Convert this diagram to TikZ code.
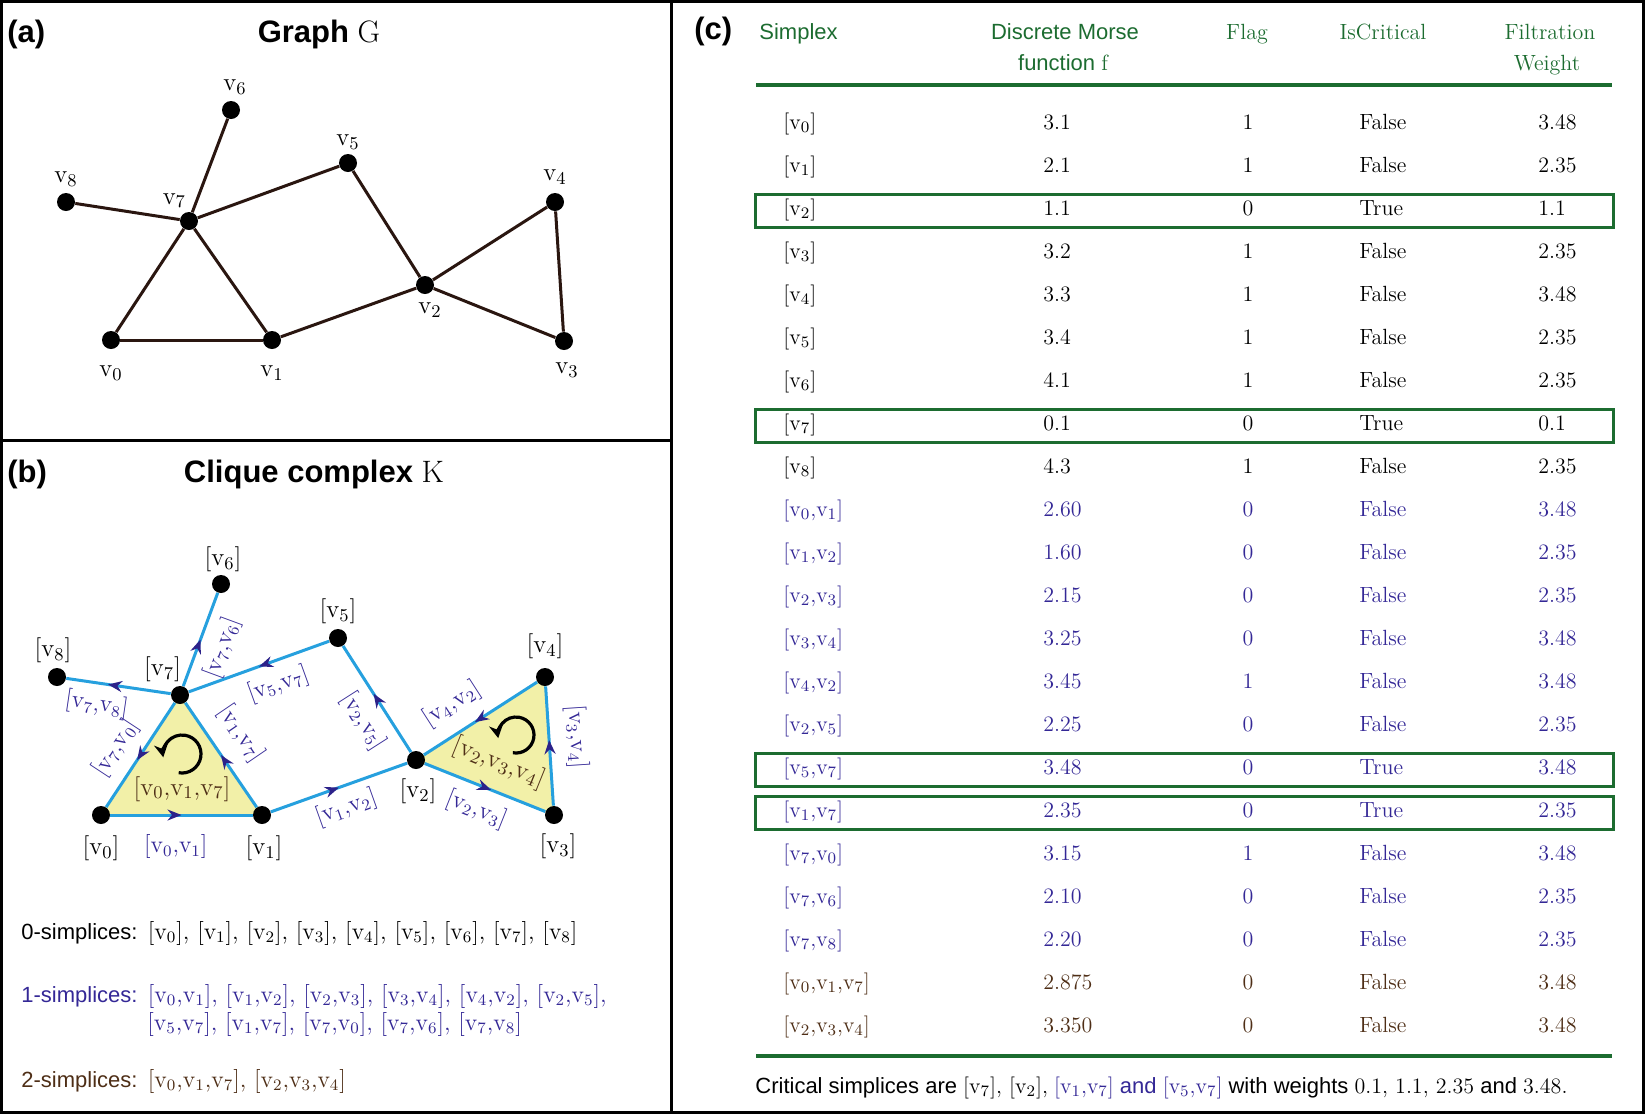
\documentclass[tikz,border=0pt]{standalone}
\usepackage{fontspec}
\setsansfont{Liberation Sans}
\usepackage{tikz}
\usetikzlibrary{positioning,arrows.meta,decorations.markings}

\definecolor{tabgreen}{RGB}{28,108,48}
\definecolor{simpblue}{RGB}{52,40,150}
\definecolor{simpbrown}{RGB}{78,46,22}
\definecolor{edgeblue}{RGB}{38,160,222}
\definecolor{arrowblue}{RGB}{44,34,138}
\definecolor{trifill}{RGB}{242,240,168}
\definecolor{edgedark}{RGB}{42,22,16}

\newcommand{\vx}[1]{$\mathrm{v}_{#1}$}
% one line of the table: index, colour, simplex, f, flag, critical, weight
\newcommand{\trow}[7]{%
  \node[cell,text=#2,anchor=base west] (s#1) at (783,{129+43*#1}) {#3};
  \node[cell,text=#2,anchor=base west] (f#1) at (1043,{129+43*#1}) {#4};
  \node[cell,text=#2,anchor=base] (g#1) at (1248,{129+43*#1}) {#5};
  \node[cell,text=#2,anchor=base west] (c#1) at (1359,{129+43*#1}) {#6};
  \node[cell,text=#2,anchor=base west] (w#1) at (1538,{129+43*#1}) {#7};
}

\begin{document}
\begin{tikzpicture}[x=0.5pt,y=-0.5pt,
    dot/.style={circle,fill=black,inner sep=0pt,minimum size=9pt},
    gedge/.style={draw=edgedark,line width=1.5pt},
    kedge/.style={draw=edgeblue,line width=1.5pt},
    flow/.style={postaction={decorate},decoration={markings,
        mark=at position #1 with {\arrow{Stealth[length=7pt,width=5.5pt,color=arrowblue]}}}},
    vlbl/.style={font=\fontsize{12.5}{14}\selectfont,inner sep=1pt},
    elbl/.style={font=\fontsize{12}{13}\selectfont,text=simpblue,inner sep=1pt,sloped},
    paneltitle/.style={font=\sffamily\bfseries\fontsize{15.5}{18}\selectfont,anchor=base},
    panelmark/.style={font=\sffamily\bfseries\fontsize{15.5}{18}\selectfont,anchor=base west,inner sep=0pt},
    head/.style={font=\fontsize{11}{13}\selectfont,text=tabgreen,anchor=base,inner sep=0pt},
    cell/.style={font=\fontsize{11}{13}\selectfont,inner sep=0pt},
    critbox/.style={draw=tabgreen,line width=1.5pt},
    hrule/.style={draw=tabgreen,line width=2pt},
    circarr/.style={line width=1.6pt,-{Stealth[length=6.5pt,width=7pt]}},
    listtxt/.style={font=\fontsize{12}{14}\selectfont,anchor=base west,inner sep=0pt}]

  \useasboundingbox (0,0) rectangle (1645,1116);
  \draw[line width=1.5pt] (1.5,1.5) rectangle (1643.5,1112);
  \draw[line width=1.5pt] (671,1.5) -- (671,1112);
  \draw[line width=1.5pt] (1.5,440) -- (671,440);

  % (a) graph
  \node[panelmark] (pa) at (7,42) {(a)};
  \node[paneltitle] (ta) at (319,42) {Graph {\rmfamily\mdseries G}};

  \node[dot] (a0) at (111,340) {};
  \node[dot] (a1) at (272,340) {};
  \node[dot] (a2) at (425,285) {};
  \node[dot] (a3) at (564,341) {};
  \node[dot] (a4) at (555,202) {};
  \node[dot] (a5) at (348,163) {};
  \node[dot] (a6) at (231,110) {};
  \node[dot] (a7) at (189,221) {};
  \node[dot] (a8) at (66,202) {};

  \node[vlbl,below=7pt of a0] (la0) {\vx0};
  \node[vlbl,below=7pt of a1] (la1) {\vx1};
  \node[vlbl,below=3pt of a2,xshift=2.5pt] (la2) {\vx2};
  \node[vlbl,below=5pt of a3,xshift=1.5pt] (la3) {\vx3};
  \node[vlbl,above=3pt of a4] (la4) {\vx4};
  \node[vlbl,above=1pt of a5] (la5) {\vx5};
  \node[vlbl,above=2pt of a6,xshift=2pt] (la6) {\vx6};
  \node[vlbl,above left=2pt and -3pt of a7] (la7) {\vx7};
  \node[vlbl,above=2pt of a8] (la8) {\vx8};

  \draw[gedge] (a0) -- (a1);
  \draw[gedge] (a0) -- (a7);
  \draw[gedge] (a1) -- (a7);
  \draw[gedge] (a1) -- (a2);
  \draw[gedge] (a2) -- (a3);
  \draw[gedge] (a2) -- (a4);
  \draw[gedge] (a3) -- (a4);
  \draw[gedge] (a2) -- (a5);
  \draw[gedge] (a5) -- (a7);
  \draw[gedge] (a6) -- (a7);
  \draw[gedge] (a8) -- (a7);

  % (b) clique complex
  \node[panelmark] (pb) at (7,482) {(b)};
  \node[paneltitle] (tb) at (314,482) {Clique complex {\rmfamily\mdseries K}};

  \coordinate (k0) at (101,815);
  \coordinate (k1) at (262,815);
  \coordinate (k2) at (416,760);
  \coordinate (k3) at (554,815);
  \coordinate (k4) at (545,677);
  \coordinate (k7) at (180,695);
  \fill[trifill] (k0) -- (k1) -- (k7) -- cycle;
  \fill[trifill] (k2) -- (k3) -- (k4) -- cycle;

  \node[dot] (b0) at (k0) {};
  \node[dot] (b1) at (k1) {};
  \node[dot] (b2) at (k2) {};
  \node[dot] (b3) at (k3) {};
  \node[dot] (b4) at (k4) {};
  \node[dot] (b5) at (338,638) {};
  \node[dot] (b6) at (221,584) {};
  \node[dot] (b7) at (k7) {};
  \node[dot] (b8) at (57,677) {};

  \node[vlbl,below=4.5pt of b0] (lb0) {[\vx0]};
  \node[vlbl,below=4.5pt of b1,xshift=1pt] (lb1) {[\vx1]};
  \node[vlbl,below=3.5pt of b2,xshift=1pt] (lb2) {[\vx2]};
  \node[vlbl,below=3.5pt of b3,xshift=2pt] (lb3) {[\vx3]};
  \node[vlbl,above=3pt of b4] (lb4) {[\vx4]};
  \node[vlbl,above=1pt of b5] (lb5) {[\vx5]};
  \node[vlbl,above=0pt of b6,xshift=1pt] (lb6) {[\vx6]};
  \node[vlbl,above left=2pt and -5pt of b7] (lb7) {[\vx7]};
  \node[vlbl,above=1pt of b8,xshift=-2pt] (lb8) {[\vx8]};

  \draw[kedge,flow=0.5] (b0) -- node[elbl,pos=0.46,below=8pt] (e01) {[\vx0,\vx1]} (b1);
  \draw[kedge,flow=0.6] (b7) -- node[elbl,pos=0.68,below=3pt] (e78) {[\vx7,\vx8]} (b8);
  \draw[kedge,flow=0.5] (b7) -- node[elbl,pos=0.5,below=4pt] (e76) {[\vx7,\vx6]} (b6);
  \draw[kedge,flow=0.5] (b5) -- node[elbl,pos=0.42,below=4pt] (e57) {[\vx5,\vx7]} (b7);
  \draw[kedge,flow=0.55] (b2) -- node[elbl,pos=0.41,below=4pt] (e25) {[\vx2,\vx5]} (b5);
  \draw[kedge,flow=0.5] (b1) -- node[elbl,pos=0.55,above=6.5pt] (e17) {[\vx1,\vx7]} (b7);
  \draw[kedge,flow=0.55] (b7) -- node[elbl,pos=0.56,above=4.5pt] (e70) {[\vx7,\vx0]} (b0);
  \draw[kedge,flow=0.5] (b1) -- node[elbl,pos=0.5,below=3pt] (e12) {[\vx1,\vx2]} (b2);
  \draw[kedge,flow=0.55] (b2) -- node[elbl,pos=0.5,below=4pt] (e23) {[\vx2,\vx3]} (b3);
  \draw[kedge,flow=0.55] (b4) -- node[elbl,pos=0.62,above=6pt] (e42) {[\vx4,\vx2]} (b2);
  \draw[kedge,flow=0.55] (b3) -- node[elbl,pos=0.56,above=6pt] (e34) {[\vx3,\vx4]} (b4);

  \coordinate (o1) at (182,754);
  \coordinate (o2) at (516,735);
  \draw[circarr] (o1) ++(-100:9.5pt) arc[start angle=-100,end angle=190,radius=9.5pt];
  \draw[circarr] (o2) ++(-100:9pt) arc[start angle=-100,end angle=190,radius=9pt];
  \node[vlbl,text=simpbrown] (t017) at (182,789) {[\vx0,\vx1,\vx7]};
  \node[vlbl,text=simpbrown,rotate=-22] (t234) at (499,763) {[\vx2,\vx3,\vx4]};

  \node[listtxt] (zero) at (21,939) {{\sffamily\fontsize{11}{13}\selectfont 0-simplices:} [\vx0], [\vx1], [\vx2], [\vx3], [\vx4], [\vx5], [\vx6], [\vx7], [\vx8]};
  \node[listtxt,text=simpblue] (one) at (21,1002) {{\sffamily\fontsize{11}{13}\selectfont 1-simplices:} [\vx0,\vx1], [\vx1,\vx2], [\vx2,\vx3], [\vx3,\vx4], [\vx4,\vx2], [\vx2,\vx5],};
  \node[listtxt,text=simpblue] (oneb) at (147,1030) {[\vx5,\vx7], [\vx1,\vx7], [\vx7,\vx0], [\vx7,\vx6], [\vx7,\vx8]};
  \node[listtxt,text=simpbrown] (two) at (21,1087) {{\sffamily\fontsize{11}{13}\selectfont 2-simplices:} [\vx0,\vx1,\vx7], [\vx2,\vx3,\vx4]};

  % (c) table
  \node[panelmark] (pc) at (694,39) {(c)};
  \node[head,anchor=base west,font=\sffamily\fontsize{11}{13}\selectfont] (h1) at (759,39) {Simplex};
  \node[head,font=\sffamily\fontsize{11}{13}\selectfont] (h2) at (1065,39) {Discrete Morse};
  \node[head,font=\sffamily\fontsize{11}{13}\selectfont] (h2b) at (1063,70) {function {\rmfamily f}};
  \node[head] (h3) at (1247,39) {Flag};
  \node[head] (h4) at (1383,39) {IsCritical};
  \node[head] (h5) at (1550,39) {Filtration};
  \node[head] (h5b) at (1547,70) {Weight};
  \draw[hrule] (756,85) -- (1612,85);

  \trow{0}{black}{[\vx0]}{3.1}{1}{False}{3.48}
  \trow{1}{black}{[\vx1]}{2.1}{1}{False}{2.35}
  \trow{2}{black}{[\vx2]}{1.1}{0}{True}{1.1}
  \trow{3}{black}{[\vx3]}{3.2}{1}{False}{2.35}
  \trow{4}{black}{[\vx4]}{3.3}{1}{False}{3.48}
  \trow{5}{black}{[\vx5]}{3.4}{1}{False}{2.35}
  \trow{6}{black}{[\vx6]}{4.1}{1}{False}{2.35}
  \trow{7}{black}{[\vx7]}{0.1}{0}{True}{0.1}
  \trow{8}{black}{[\vx8]}{4.3}{1}{False}{2.35}
  \trow{9}{simpblue}{[\vx0,\vx1]}{2.60}{0}{False}{3.48}
  \trow{10}{simpblue}{[\vx1,\vx2]}{1.60}{0}{False}{2.35}
  \trow{11}{simpblue}{[\vx2,\vx3]}{2.15}{0}{False}{2.35}
  \trow{12}{simpblue}{[\vx3,\vx4]}{3.25}{0}{False}{3.48}
  \trow{13}{simpblue}{[\vx4,\vx2]}{3.45}{1}{False}{3.48}
  \trow{14}{simpblue}{[\vx2,\vx5]}{2.25}{0}{False}{2.35}
  \trow{15}{simpblue}{[\vx5,\vx7]}{3.48}{0}{True}{3.48}
  \trow{16}{simpblue}{[\vx1,\vx7]}{2.35}{0}{True}{2.35}
  \trow{17}{simpblue}{[\vx7,\vx0]}{3.15}{1}{False}{3.48}
  \trow{18}{simpblue}{[\vx7,\vx6]}{2.10}{0}{False}{2.35}
  \trow{19}{simpblue}{[\vx7,\vx8]}{2.20}{0}{False}{2.35}
  \trow{20}{simpbrown}{[\vx0,\vx1,\vx7]}{2.875}{0}{False}{3.48}
  \trow{21}{simpbrown}{[\vx2,\vx3,\vx4]}{3.350}{0}{False}{3.48}

  \foreach \r in {2,7,15,16}
    \draw[critbox] (755,{108+43*\r}) rectangle (1613,{141+43*\r});
  \draw[hrule] (756,1056) -- (1612,1056);

  \node[cell,anchor=base west,font=\sffamily\fontsize{11}{13}\selectfont] (note) at (755,1093)
    {Critical simplices are {\rmfamily [\vx7], [\vx2],} \textcolor{simpblue}{{\rmfamily [\vx1,\vx7]} and {\rmfamily [\vx5,\vx7]}} with weights {\rmfamily 0.1, 1.1, 2.35} and {\rmfamily 3.48.}};
\end{tikzpicture}
\end{document}
